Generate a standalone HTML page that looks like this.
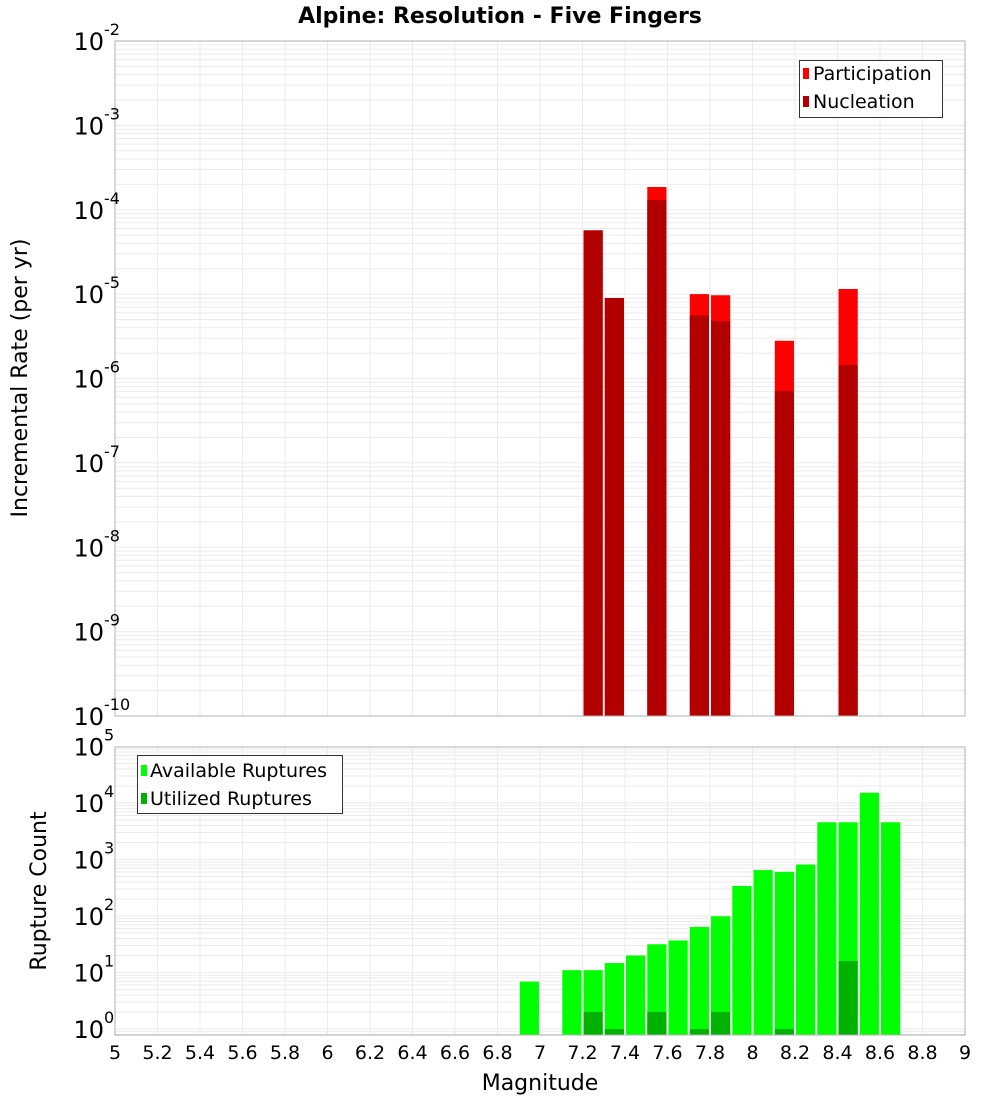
<!DOCTYPE html>
<html><head><meta charset="utf-8"><style>
body{margin:0;background:#fff;}
svg text{font-family:"DejaVu Sans","Liberation Sans",sans-serif;}
</style></head><body>
<svg id="c" width="1000" height="1100" xmlns="http://www.w3.org/2000/svg">
<rect width="1000" height="1100" fill="#fff"/>
<text x="500" y="23" text-anchor="middle" font-size="22" font-weight="bold">Alpine: Resolution - Five Fingers</text>
<g id="topPlot"></g>
<g id="botPlot"></g>
<text transform="translate(27,378) rotate(-90)" text-anchor="middle" font-size="22">Incremental Rate (per yr)</text>
<text transform="translate(46,891) rotate(-90)" text-anchor="middle" font-size="22">Rupture Count</text>
<text x="540" y="1090" text-anchor="middle" font-size="22">Magnitude</text>
</svg>
<script>
const NS="http://www.w3.org/2000/svg";
const rateMags=[7.25,7.35,7.55,7.75,7.85,8.15,8.45];
const participation=[5.7e-5,9.0e-6,1.86e-4,1.0e-5,9.7e-6,2.8e-6,1.15e-5];
const nucleation=[5.7e-5,9.0e-6,1.3e-4,5.6e-6,4.8e-6,7.1e-7,1.45e-6];
const countMags=[6.95,7.15,7.25,7.35,7.45,7.55,7.65,7.75,7.85,7.95,8.05,8.15,8.25,8.35,8.45,8.55,8.65];
const available=[6.9,11,11,14.7,20,31.6,37,64,99,340,650,605,815,4560,4560,15200,4560];
const utilMags=[7.25,7.35,7.55,7.75,7.85,8.15,8.45];
const utilized=[2,1,2,1,2,1,16];
const xTicks=[5,5.2,5.4,5.6,5.8,6,6.2,6.4,6.6,6.8,7,7.2,7.4,7.6,7.8,8,8.2,8.4,8.6,8.8,9];
const topExps=[-2,-3,-4,-5,-6,-7,-8,-9,-10];
const botExps=[5,4,3,2,1,0];

const X0=115,X1=965;
const xs=m=>X0+(m-5)/4*(X1-X0);
const yTop=v=>41+(-2-Math.log10(v))*84.375;
const yBot=v=>1029-56.5*Math.log10(v);
function el(tag,attrs,parent){const e=document.createElementNS(NS,tag);for(const k in attrs)e.setAttribute(k,attrs[k]);parent.appendChild(e);return e;}
const topG=document.getElementById('topPlot'),botG=document.getElementById('botPlot'),svgEl=document.getElementById('c');

function grid(g,yT,yB,yf,eLo,eHi){
  for(let e=eLo;e<eHi+1;e++){for(let k=1;k<10;k++){const v=k*Math.pow(10,e);const y=yf(v);if(y<yT-0.5||y>yB+0.5)continue;
    const l=el('line',{x1:X0,x2:X1,y1:y,y2:y,stroke:'#ebebeb','stroke-width':1},g);
    
    }}
  xTicks.forEach(t=>{const x=xs(t);const l=el('line',{x1:x,x2:x,y1:yT,y2:yB,stroke:'#ebebeb','stroke-width':1},g);
    
    });
}
function ylabel(g,y,exp){
  const t=el('text',{x:104,y:y+9,'text-anchor':'end','font-size':24},g);
  
  
  t.textContent='10';
  const s=el('text',{x:104,y:y-6,'font-size':16},g);
  
  
  s.textContent=String(exp);
}
// top
grid(topG,41,716,yTop,-10,-3);
const bw=19.2;
rateMags.forEach((m,i)=>{const x=xs(m)-bw/2;
  const p=el('rect',{x:x,y:yTop(participation[i]),width:bw,height:716-yTop(participation[i]),fill:'#ff0000'},topG);
  
  
  const n=el('rect',{x:x,y:yTop(nucleation[i]),width:bw,height:716-yTop(nucleation[i]),fill:'#b20000'},topG);
  
  });
el('rect',{x:X0,y:41,width:X1-X0,height:675,fill:'none',stroke:'#b0b0b0'},topG);
topExps.forEach(e=>ylabel(svgEl,yTop(Math.pow(10,e)),e));
const lg=el('g',{},topG);


el('rect',{x:799.5,y:60.5,width:143,height:57,fill:'#fff',stroke:'#333'},lg);
[['Participation','#ff0000',73],['Nucleation','#b20000',101]].forEach(a=>{
  const r=el('rect',{x:803,y:a[2]-5,width:6,height:11,fill:a[1]},lg);
  
  
  const t=el('text',{x:813,y:a[2]+7,'font-size':19},lg);
  
  
  t.textContent=a[0];});
// bottom
grid(botG,747,1035,yBot,-1,4);
countMags.forEach((m,i)=>{const y=yBot(available[i]);
  const r=el('rect',{x:xs(m)-bw/2,y:y,width:bw,height:1035-y,fill:'#00ff00'},botG);
  
  });
utilMags.forEach((m,i)=>{const y=yBot(utilized[i]);
  const r=el('rect',{x:xs(m)-bw/2,y:y,width:bw,height:1035-y,fill:'#00b200'},botG);
  
  });
el('rect',{x:X0,y:747,width:X1-X0,height:288,fill:'none',stroke:'#b0b0b0'},botG);
botExps.forEach(e=>ylabel(svgEl,yBot(Math.pow(10,e)),e));
const lg2=el('g',{},botG);


el('rect',{x:137.5,y:755.5,width:205,height:58,fill:'#fff',stroke:'#333'},lg2);
[['Available Ruptures','#00ff00',770],['Utilized Ruptures','#00b200',798]].forEach(a=>{
  const r=el('rect',{x:141,y:a[2]-5,width:6,height:11,fill:a[1]},lg2);
  
  
  const t=el('text',{x:150,y:a[2]+7,'font-size':19},lg2);
  
  
  t.textContent=a[0];});
xTicks.forEach(t=>{const e=el('text',{x:xs(t),y:1059,'text-anchor':'middle','font-size':19},svgEl);
  
  
  e.textContent=String(t);});
</script>
</body></html>
